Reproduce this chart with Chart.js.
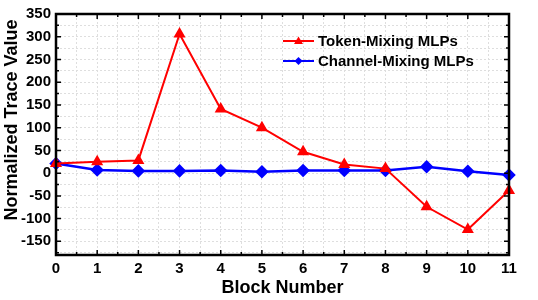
<!DOCTYPE html>
<html>
<head>
<meta charset="utf-8">
<script src="https://cdn.jsdelivr.net/npm/chart.js@4.4.1/dist/chart.umd.min.js"></script>
<style>
  html, body { margin: 0; padding: 0; background: #fff; }
  #wrap { width: 538px; height: 300px; }
</style>
</head>
<body>
<div id="wrap"><canvas id="traceChart" width="538" height="300"></canvas></div>
<script>
const blocks = [0, 1, 2, 3, 4, 5, 6, 7, 8, 9, 10, 11];
const tokenMixing = [21, 25, 28, 306, 141, 100, 47, 19, 10, -74, -124, -38];
const channelMixing = [21, 7, 5, 5, 6, 3, 6, 6, 6, 14, 4, -4];
const yTickLabels = [-150, -100, -50, 0, 50, 100, 150, 200, 250, 300, 350];
const seriesNames = ['Token-Mixing MLPs', 'Channel-Mixing MLPs'];

const FONT = '"Liberation Sans", Arial, sans-serif';

// marcos, ticks hacia dentro, titulos y leyenda
const framePlugin = {
    id: 'frame',
    afterDraw: function(chart) {
        const ctx = chart.ctx;
        const a = chart.chartArea;
        const xs = chart.scales.x, ys = chart.scales.y;
        ctx.save();
        ctx.strokeStyle = '#000';
        ctx.lineWidth = 1.5;
        // ticks x
        for (let v = 0; v <= 11; v += 0.5) {
            const px = xs.getPixelForValue(v);
            const len = Number.isInteger(v) ? 5 : 3;
            ctx.beginPath();
            ctx.moveTo(px, a.bottom); ctx.lineTo(px, a.bottom - len);
            ctx.moveTo(px, a.top); ctx.lineTo(px, a.top + len);
            ctx.stroke();
        }
        // ticks y
        for (let v = -175; v <= 350; v += 25) {
            const py = ys.getPixelForValue(v);
            const len = v % 50 === 0 ? 5 : 3;
            ctx.beginPath();
            ctx.moveTo(a.left, py); ctx.lineTo(a.left + len, py);
            ctx.moveTo(a.right, py); ctx.lineTo(a.right - len, py);
            ctx.stroke();
        }
        ctx.lineWidth = 2.5;
        ctx.strokeRect(a.left, a.top, a.right - a.left, a.bottom - a.top);

        // titulos de ejes
        ctx.fillStyle = '#000';
        ctx.font = 'bold 18px ' + FONT;
        ctx.textAlign = 'center';
        ctx.textBaseline = 'alphabetic';
        ctx.fillText('Block Number', (a.left + a.right) / 2, 293);
        ctx.save();
        ctx.translate(17, 120);
        ctx.rotate(-Math.PI / 2);
        ctx.fillText('Normalized Trace Value', 0, 0);
        ctx.restore();

        // leyenda
        ctx.font = 'bold 15px ' + FONT;
        ctx.textAlign = 'left';
        ctx.textBaseline = 'middle';
        chart.data.datasets.forEach((ds, i) => {
            const y = 41 + i * 20;
            ctx.strokeStyle = ds.borderColor;
            ctx.lineWidth = 2;
            ctx.beginPath();
            ctx.moveTo(283, y); ctx.lineTo(314, y);
            ctx.stroke();
            ctx.fillStyle = ds.borderColor;
            ctx.beginPath();
            if (i === 0) {
                ctx.moveTo(298.5, y - 4.5); ctx.lineTo(303, y + 3); ctx.lineTo(294, y + 3);
            } else {
                ctx.moveTo(298.5, y - 4); ctx.lineTo(302.5, y); ctx.lineTo(298.5, y + 4); ctx.lineTo(294.5, y);
            }
            ctx.closePath();
            ctx.fill();
            ctx.fillStyle = '#000';
            ctx.fillText(ds.label, 318, y + 1);
        });
        ctx.restore();
    }
};

const ctx = document.getElementById('traceChart').getContext('2d');
const traceChart = new Chart(ctx, {
    type: 'line',
    data: {
        datasets: [{
            label: seriesNames[0],
            data: blocks.map((b, i) => ({ x: b, y: tokenMixing[i] })),
            borderColor: '#ff0000',
            backgroundColor: '#ff0000',
            borderWidth: 2,
            pointStyle: 'triangle',
            pointRadius: 5,
            pointHoverRadius: 5,
            clip: false
        }, {
            label: seriesNames[1],
            data: blocks.map((b, i) => ({ x: b, y: channelMixing[i] })),
            borderColor: '#0000ff',
            backgroundColor: '#0000ff',
            borderWidth: 2.5,
            pointStyle: 'rectRot',
            pointRadius: 5,
            pointHoverRadius: 5,
            clip: false
        }]
    },
    options: {
        responsive: false,
        animation: false,
        layout: { padding: { top: 6, right: 29, left: 0, bottom: 0 } },
        scales: {
            x: {
                type: 'linear',
                min: 0,
                max: 11,
                afterBuildTicks: function(scale) {
                    const t = [];
                    for (let v = 0; v <= 11; v += 0.5) t.push({ value: v });
                    scale.ticks = t;
                },
                afterFit: function(scale) { scale.height = 45; },
                grid: { color: '#dedede', lineWidth: 1, drawTicks: false },
                border: { display: false, dash: [2, 2] },
                ticks: {
                    color: '#000',
                    padding: 5,
                    maxRotation: 0,
                    autoSkip: false,
                    font: { family: FONT, size: 15, weight: 'bold' },
                    callback: v => Number.isInteger(v) ? v : ''
                }
            },
            y: {
                min: -180,
                max: 350,
                afterBuildTicks: function(scale) {
                    const t = [];
                    for (let v = -175; v <= 350; v += 25) t.push({ value: v });
                    scale.ticks = t;
                },
                afterFit: function(scale) { scale.width = 56; },
                grid: { color: '#dedede', lineWidth: 1, drawTicks: false },
                border: { display: false, dash: [2, 2] },
                ticks: {
                    color: '#000',
                    padding: 5,
                    autoSkip: false,
                    font: { family: FONT, size: 15, weight: 'bold' },
                    callback: v => yTickLabels.includes(v) ? v : ''
                }
            }
        },
        plugins: {
            legend: { display: false },
            tooltip: { enabled: false }
        }
    },
    plugins: [framePlugin]
});
</script>
</body>
</html>
